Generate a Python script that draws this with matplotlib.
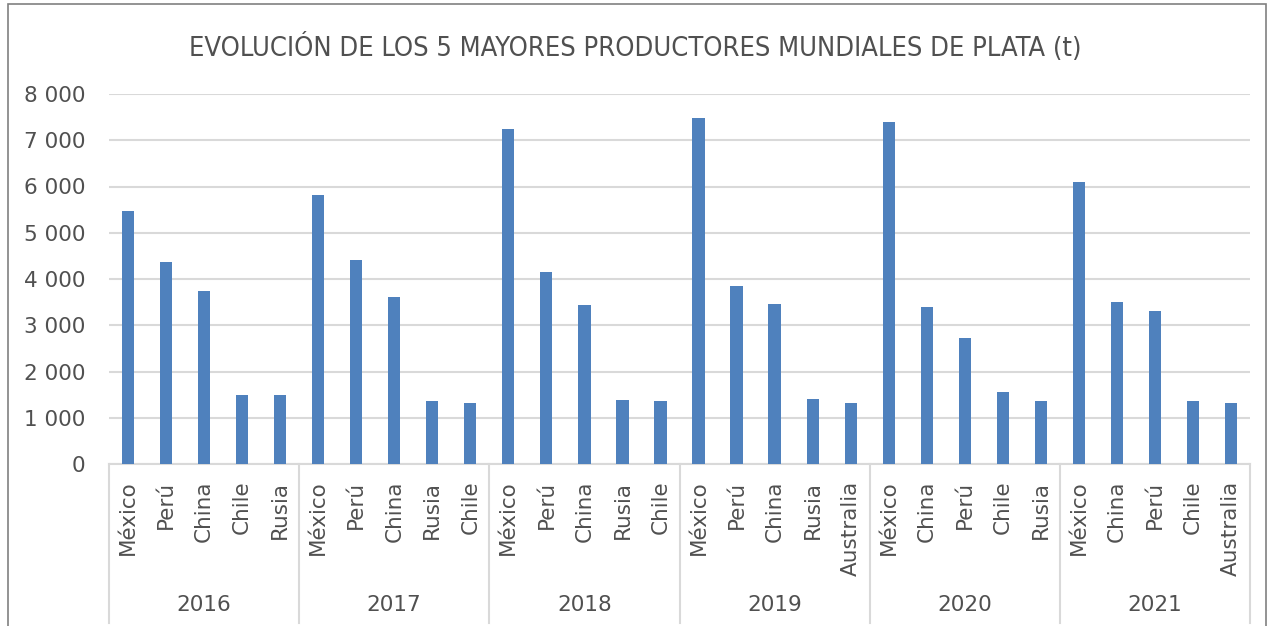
import matplotlib.pyplot as plt
import matplotlib.transforms as mtransforms
from matplotlib.patches import Rectangle

years = ["2016", "2017", "2018", "2019", "2020", "2021"]
countries = [
    ["México", "Perú", "China", "Chile", "Rusia"],
    ["México", "Perú", "China", "Rusia", "Chile"],
    ["México", "Perú", "China", "Rusia", "Chile"],
    ["México", "Perú", "China", "Rusia", "Australia"],
    ["México", "China", "Perú", "Chile", "Rusia"],
    ["México", "China", "Perú", "Chile", "Australia"],
]
production = [
    [5460, 4360, 3740, 1490, 1490],
    [5810, 4405, 3610, 1370, 1310],
    [7235, 4145, 3430, 1385, 1360],
    [7475, 3850, 3460, 1400, 1320],
    [7400, 3390, 2715, 1565, 1370],
    [6090, 3500, 3300, 1370, 1310],
]

bar_color = "#4F81BD"
text_color = "#505050"
grid_color = "#D9D9D9"

labels = [c for grp in countries for c in grp]
values = [v for grp in production for v in grp]
x = list(range(len(values)))

fig = plt.figure(figsize=(12.7, 6.26), dpi=100)
ax = fig.add_axes([109 / 1270, 1 - 464 / 626, (1250 - 109) / 1270, (464 - 94) / 626])

ax.bar(x, values, width=0.32, color=bar_color, zorder=3)
ax.set_xlim(-0.5, len(values) - 0.5)
ax.set_ylim(0, 8000)
ax.set_yticks(range(0, 8001, 1000))
ax.set_yticklabels([f"{v:,}".replace(",", " ") for v in range(0, 8001, 1000)])
ax.yaxis.grid(True, color=grid_color, linewidth=1.5, zorder=0)
ax.tick_params(axis="y", length=0, pad=17, labelsize=15.5, labelcolor=text_color)

ax.set_xticks(x)
ax.set_xticklabels(labels, rotation=90, va="top", ha="center")
ax.tick_params(axis="x", length=0, pad=12, labelsize=15.5, labelcolor=text_color)

for side in ["top", "right", "left"]:
    ax.spines[side].set_visible(False)
ax.spines["bottom"].set_color(grid_color)
ax.spines["bottom"].set_linewidth(1.5)

# group separators and year labels
trans = mtransforms.blended_transform_factory(ax.transData, ax.transAxes)
n = len(countries[0])
for i in range(len(years) + 1):
    xs = i * n - 0.5
    ax.plot([xs, xs], [0, -0.43], color=grid_color, linewidth=1.5,
            transform=trans, clip_on=False)
for i, yr in enumerate(years):
    ax.text(i * n + (n - 1) / 2, -0.38, yr, transform=trans, ha="center",
            va="center", fontsize=15.5, color=text_color)

fig.suptitle("EVOLUCIÓN DE LOS 5 MAYORES PRODUCTORES MUNDIALES DE PLATA (t)",
             y=1 - 48 / 626, va="center", fontsize=19.5, color=text_color,
             fontstretch="condensed")

fig.patches.append(Rectangle((8 / 1270, -0.01), 1258 / 1270, 1 - 4 / 626 + 0.01,
                             transform=fig.transFigure, fill=False,
                             edgecolor="#808080", linewidth=1.2))

fig.savefig("out.png", dpi=100)
